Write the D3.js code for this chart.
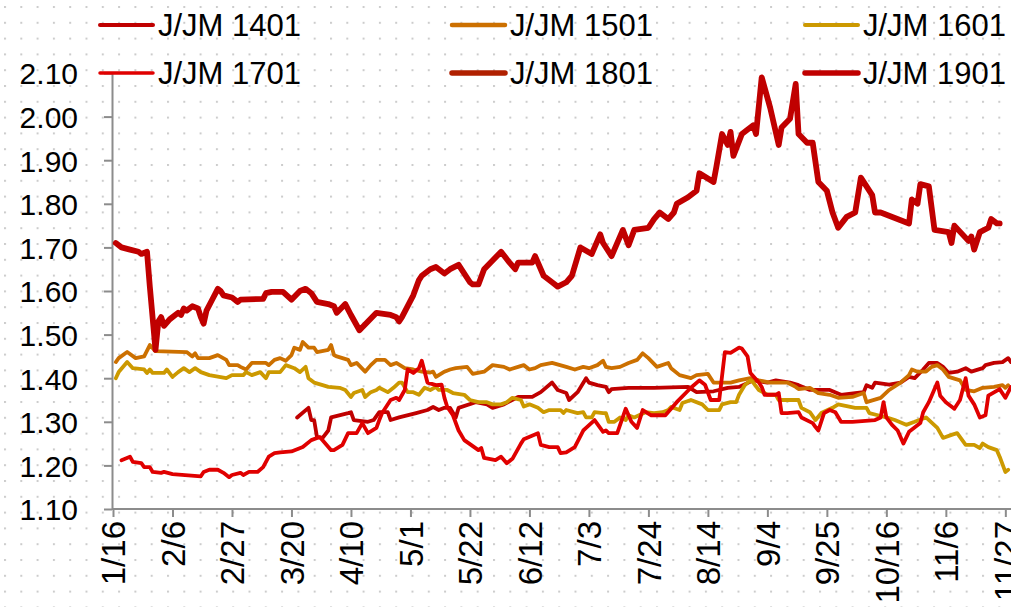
<!DOCTYPE html>
<html>
<head>
<meta charset="utf-8">
<script src="https://cdn.jsdelivr.net/npm/d3@7"></script>
<style>
  html, body { margin: 0; padding: 0; background: #fff; }
  svg { display: block; font-family: "Liberation Sans", Arial, sans-serif; }
</style>
</head>
<body>
<svg id="chart" width="1011" height="607"></svg>
<script>
// tick labels on the x axis (every 3 weeks) and y axis values
var xLabels = ["1/16","2/6","2/27","3/20","4/10","5/1","5/22","6/12","7/3","7/24","8/14","9/4","9/25","10/16","11/6","11/27"];
var yTicks = [1.10,1.20,1.30,1.40,1.50,1.60,1.70,1.80,1.90,2.00,2.10];

var seriesNames = ["J/JM 1401","J/JM 1501","J/JM 1601","J/JM 1701","J/JM 1801","J/JM 1901"];

// [date, ratio]
var s1401 = [["3/22",1.31],["3/26",1.332],["3/27",1.304],["3/28",1.304],["3/29",1.265],["3/31",1.263],["4/2",1.28],["4/3",1.31],
  ["4/9",1.32],["4/10",1.322],["4/11",1.304],["4/16",1.30],["4/18",1.304],["4/20",1.322],["4/23",1.322],["4/24",1.304],["4/27",1.31],
  ["5/3",1.32],["5/7",1.327],["5/9",1.334],["5/11",1.327],["5/13",1.332],["5/15",1.332],["5/17",1.31],["5/18",1.332],["5/24",1.345],
  ["5/28",1.34],["5/30",1.332],["6/3",1.34],["6/8",1.357],["6/13",1.357],["6/16",1.368],["6/20",1.39],["6/22",1.373],["6/25",1.366],
  ["6/26",1.35],["6/29",1.368],["7/2",1.40],["7/3",1.39],["7/6",1.384],["7/9",1.38],["7/10",1.368],["7/11",1.375],["7/17",1.378],
  ["7/20",1.378],["7/26",1.378],["8/7",1.38],["8/10",1.368],["8/16",1.37],["8/21",1.378],["8/25",1.38],["8/30",1.395],["9/4",1.39],
  ["9/7",1.395],["9/12",1.39],["9/15",1.384],["9/19",1.373],["9/26",1.373],["9/30",1.362],["10/5",1.366],["10/8",1.368],["10/9",1.384],
  ["10/11",1.378],["10/12",1.39],["10/17",1.385],["10/21",1.39],["10/24",1.403],["10/26",1.40],["10/29",1.42],["10/31",1.435],
  ["11/3",1.435],["11/5",1.426],["11/7",1.412],["11/10",1.415],["11/13",1.423],["11/15",1.415],["11/19",1.423],["11/20",1.43],
  ["11/23",1.435],["11/26",1.437],["11/28",1.446],["11/29",1.437]];

var s1501 = [["1/17",1.437],["1/18",1.446],["1/21",1.46],["1/24",1.446],["1/27",1.45],["1/29",1.476],["1/31",1.462],["2/11",1.46],
  ["2/13",1.45],["2/14",1.457],["2/15",1.446],["2/19",1.446],["2/22",1.453],["2/25",1.442],["2/26",1.43],["3/1",1.43],["3/2",1.426],
  ["3/4",1.42],["3/6",1.435],["3/11",1.435],["3/12",1.43],["3/14",1.442],["3/16",1.446],["3/18",1.44],["3/20",1.453],["3/21",1.47],
  ["3/23",1.465],["3/24",1.483],["3/26",1.47],["3/28",1.47],["3/29",1.46],["4/2",1.465],["4/3",1.476],["4/4",1.453],["4/5",1.45],
  ["4/9",1.442],["4/10",1.43],["4/12",1.435],["4/15",1.415],["4/17",1.43],["4/19",1.442],["4/22",1.442],["4/24",1.43],["4/26",1.435],
  ["4/29",1.423],["5/2",1.42],["5/5",1.415],["5/8",1.413],["5/9",1.415],["5/10",1.403],["5/13",1.415],["5/15",1.42],["5/17",1.423],
  ["5/21",1.426],["5/23",1.41],["5/27",1.415],["5/30",1.43],["6/3",1.426],["6/5",1.42],["6/8",1.426],["6/10",1.43],["6/12",1.42],
  ["6/14",1.423],["6/16",1.43],["6/20",1.435],["6/25",1.426],["6/28",1.42],["7/1",1.426],["7/3",1.423],["7/6",1.43],["7/8",1.44],
  ["7/9",1.426],["7/11",1.423],["7/14",1.426],["7/17",1.435],["7/20",1.442],["7/22",1.457],["7/24",1.446],["7/27",1.426],["7/31",1.435],
  ["8/1",1.423],["8/4",1.407],["8/8",1.40],["8/10",1.407],["8/14",1.41],["8/16",1.39],["8/22",1.39],["8/25",1.395],["8/29",1.40],
  ["9/1",1.395],["9/5",1.39],["9/11",1.39],["9/14",1.38],["9/15",1.375],["9/19",1.378],["9/22",1.366],["9/26",1.362],["9/29",1.355],
  ["10/4",1.357],["10/8",1.366],["10/9",1.345],["10/14",1.355],["10/17",1.373],["10/21",1.39],["10/24",1.407],["10/25",1.42],
  ["10/27",1.415],["10/30",1.415],["11/1",1.426],["11/3",1.43],["11/5",1.42],["11/7",1.403],["11/11",1.395],["11/13",1.373],
  ["11/16",1.37],["11/19",1.378],["11/23",1.38],["11/26",1.384],["11/27",1.378],["11/28",1.384]];

var s1601 = [["1/17",1.40],["1/18",1.414],["1/21",1.437],["1/23",1.423],["1/27",1.42],["1/28",1.412],["1/29",1.42],["1/30",1.412],
  ["2/3",1.412],["2/4",1.42],["2/6",1.403],["2/8",1.414],["2/10",1.423],["2/12",1.414],["2/14",1.423],["2/16",1.414],["2/19",1.407],
  ["2/25",1.40],["2/27",1.407],["3/3",1.407],["3/4",1.414],["3/6",1.407],["3/9",1.414],["3/11",1.40],["3/12",1.414],["3/16",1.414],
  ["3/18",1.43],["3/21",1.423],["3/23",1.414],["3/25",1.426],["3/26",1.40],["3/28",1.39],["3/31",1.384],["4/2",1.38],["4/6",1.378],
  ["4/8",1.373],["4/10",1.357],["4/11",1.366],["4/14",1.373],["4/15",1.357],["4/17",1.368],["4/19",1.373],["4/20",1.378],["4/23",1.368],
  ["4/25",1.378],["4/27",1.39],["4/28",1.39],["4/30",1.368],["5/2",1.368],["5/4",1.362],["5/6",1.378],["5/8",1.373],["5/10",1.38],
  ["5/11",1.373],["5/14",1.373],["5/16",1.366],["5/20",1.362],["5/22",1.35],["5/25",1.345],["5/28",1.345],["5/30",1.34],["6/2",1.34],
  ["6/4",1.345],["6/6",1.355],["6/9",1.35],["6/10",1.335],["6/12",1.34],["6/15",1.332],["6/17",1.322],["6/19",1.327],["6/23",1.327],
  ["6/24",1.32],["6/25",1.327],["6/29",1.32],["7/1",1.322],["7/2",1.31],["7/4",1.31],["7/5",1.322],["7/8",1.32],["7/9",1.32],
  ["7/10",1.30],["7/12",1.30],["7/14",1.31],["7/16",1.304],["7/17",1.315],["7/19",1.31],["7/23",1.322],["7/26",1.32],["7/29",1.322],
  ["7/31",1.327],["8/1",1.334],["8/4",1.327],["8/5",1.343],["8/8",1.35],["8/12",1.34],["8/14",1.327],["8/18",1.327],["8/19",1.34],
  ["8/22",1.345],["8/24",1.345],["8/25",1.362],["8/27",1.384],["8/29",1.395],["8/30",1.39],["9/1",1.373],["9/4",1.362],["9/7",1.362],
  ["9/8",1.35],["9/13",1.35],["9/15",1.35],["9/16",1.332],["9/19",1.322],["9/21",1.304],["9/23",1.32],["9/27",1.332],["9/29",1.34],
  ["10/5",1.332],["10/9",1.332],["10/10",1.32],["10/13",1.315],["10/16",1.31],["10/19",1.304],["10/23",1.293],["10/26",1.30],
  ["10/30",1.31],["11/3",1.286],["11/5",1.263],["11/8",1.27],["11/10",1.274],["11/13",1.247],["11/16",1.247],["11/18",1.24],
  ["11/19",1.25],["11/21",1.242],["11/24",1.235],["11/25",1.22],["11/27",1.185],["11/28",1.19]];

var s1701 = [["1/19",1.212],["1/22",1.22],["1/23",1.208],["1/26",1.205],["1/27",1.196],["1/29",1.196],["1/30",1.185],["2/2",1.183],
  ["2/3",1.185],["2/6",1.18],["2/16",1.175],["2/17",1.185],["2/19",1.19],["2/22",1.19],["2/24",1.183],["2/26",1.173],["2/27",1.178],
  ["3/2",1.183],["3/3",1.178],["3/5",1.185],["3/8",1.185],["3/10",1.196],["3/12",1.22],["3/14",1.228],["3/16",1.23],["3/20",1.232],
  ["3/24",1.242],["3/27",1.258],["3/30",1.265],["4/3",1.235],["4/4",1.235],["4/7",1.247],["4/9",1.274],["4/12",1.274],["4/14",1.297],
  ["4/16",1.274],["4/19",1.286],["4/20",1.304],["4/21",1.32],["4/24",1.35],["4/26",1.355],["4/27",1.35],["4/29",1.373],["4/30",1.42],
  ["5/2",1.412],["5/4",1.423],["5/5",1.44],["5/7",1.39],["5/10",1.384],["5/12",1.385],["5/13",1.355],["5/14",1.334],["5/16",1.315],
  ["5/18",1.28],["5/20",1.258],["5/25",1.235],["5/26",1.24],["5/27",1.217],["5/31",1.212],["6/2",1.22],["6/4",1.205],["6/6",1.215],
  ["6/9",1.25],["6/10",1.26],["6/15",1.274],["6/16",1.247],["6/19",1.242],["6/22",1.242],["6/23",1.228],["6/25",1.23],["6/28",1.242],
  ["7/1",1.28],["7/2",1.286],["7/5",1.304],["7/8",1.277],["7/9",1.28],["7/10",1.274],["7/13",1.274],["7/16",1.33],["7/18",1.30],
  ["7/20",1.286],["7/22",1.327],["7/25",1.315],["7/30",1.315],["8/3",1.345],["8/8",1.378],["8/11",1.395],["8/13",1.385],["8/15",1.35],
  ["8/18",1.35],["8/20",1.46],["8/22",1.458],["8/25",1.47],["8/26",1.468],["8/28",1.45],["8/29",1.412],["9/1",1.39],["9/2",1.38],
  ["9/3",1.362],["9/7",1.362],["9/8",1.366],["9/9",1.32],["9/11",1.32],["9/15",1.322],["9/16",1.31],["9/20",1.297],["9/21",1.288],
  ["9/22",1.28],["9/24",1.32],["9/26",1.327],["9/28",1.322],["9/30",1.30],["10/4",1.30],["10/12",1.304],["10/14",1.31],["10/15",1.345],
  ["10/16",1.31],["10/18",1.293],["10/20",1.28],["10/22",1.25],["10/24",1.277],["10/28",1.297],["10/29",1.322],["10/31",1.345],
  ["11/3",1.39],["11/4",1.36],["11/6",1.345],["11/9",1.33],["11/11",1.35],["11/13",1.40],["11/14",1.36],["11/16",1.34],["11/18",1.31],
  ["11/20",1.315],["11/21",1.36],["11/25",1.375],["11/27",1.355],["11/29",1.38]];

var s1801 = [];

var s1901 = [["1/17",1.71],["1/19",1.70],["1/22",1.695],["1/25",1.69],["1/26",1.685],["1/28",1.69],["1/29",1.61],["1/31",1.465],
  ["2/1",1.53],["2/2",1.54],["2/3",1.52],["2/5",1.535],["2/8",1.55],["2/9",1.545],["2/10",1.56],["2/11",1.555],["2/13",1.565],
  ["2/15",1.56],["2/16",1.54],["2/17",1.525],["2/18",1.555],["2/20",1.58],["2/22",1.605],["2/23",1.60],["2/24",1.59],["2/27",1.585],
  ["3/1",1.575],["3/2",1.58],["3/10",1.582],["3/11",1.595],["3/13",1.598],["3/17",1.598],["3/20",1.58],["3/23",1.60],["3/25",1.605],
  ["3/27",1.595],["3/29",1.575],["4/2",1.57],["4/4",1.565],["4/5",1.55],["4/8",1.57],["4/10",1.545],["4/13",1.51],["4/16",1.53],
  ["4/19",1.55],["4/24",1.545],["4/26",1.54],["4/27",1.53],["4/28",1.54],["5/2",1.59],["5/4",1.625],["5/5",1.635],["5/8",1.65],
  ["5/10",1.655],["5/13",1.64],["5/15",1.65],["5/18",1.66],["5/22",1.62],["5/23",1.615],["5/25",1.615],["5/27",1.65],["5/30",1.67],
  ["6/2",1.69],["6/5",1.665],["6/7",1.65],["6/8",1.665],["6/13",1.665],["6/14",1.68],["6/17",1.635],["6/20",1.62],["6/22",1.61],
  ["6/25",1.62],["6/27",1.635],["6/30",1.70],["7/4",1.685],["7/7",1.73],["7/8",1.71],["7/11",1.68],["7/15",1.74],["7/17",1.705],
  ["7/19",1.74],["7/24",1.745],["7/26",1.765],["7/28",1.78],["7/31",1.765],["8/2",1.78],["8/3",1.80],["8/7",1.815],["8/10",1.83],
  ["8/11",1.87],["8/16",1.85],["8/17",1.885],["8/19",1.96],["8/21",1.935],["8/22",1.965],["8/23",1.91],["8/26",1.96],["8/30",1.98],
  ["8/31",1.96],["9/2",2.09],["9/5",2.02],["9/8",1.935],["9/9",1.975],["9/12",1.995],["9/14",2.075],["9/15",1.96],["9/18",1.94],
  ["9/20",1.94],["9/22",1.85],["9/25",1.83],["9/27",1.78],["9/29",1.745],["10/2",1.77],["10/5",1.78],["10/7",1.86],["10/11",1.82],
  ["10/12",1.78],["10/14",1.78],["10/24",1.755],["10/25",1.81],["10/27",1.80],["10/28",1.845],["10/31",1.84],["11/1",1.79],
  ["11/2",1.74],["11/7",1.735],["11/8",1.71],["11/9",1.75],["11/14",1.715],["11/15",1.725],["11/16",1.695],["11/18",1.735],
  ["11/21",1.745],["11/22",1.765],["11/24",1.755],["11/25",1.755]];

var allSeries = [s1401, s1501, s1601, s1701, s1801, s1901];

// look of each series (same order as seriesNames)
var colors = ["#c00000", "#cc7000", "#cc9900", "#e00000", "#b02000", "#c00000"];
var lineW = [3.8, 3.8, 3.8, 3.8, 5, 5.8];
var legendW = [4, 4.5, 4, 3.5, 5.5, 5.5];

var svg = d3.select("#chart");
var W = 1011, H = 607;

// dotted background
var defs = svg.append("defs");
var pat = defs.append("pattern")
    .attr("id", "dots")
    .attr("patternUnits", "userSpaceOnUse")
    .attr("width", 16.3).attr("height", 15.8)
    .attr("x", 4).attr("y", 6);
pat.append("rect").attr("width", 2).attr("height", 2).attr("fill", "#cccccc");
svg.append("rect").attr("width", W).attr("height", H).attr("fill", "#fff");
svg.append("rect").attr("width", W).attr("height", H).attr("fill", "url(#dots)");

var parse = d3.utcParse("%m/%d");

var x = d3.scaleUtc()
    .domain([parse("1/16"), parse("11/29")])
    .range([113, 1011]);
var y = d3.scaleLinear()
    .domain([1.10, 2.10])
    .range([509, 73]);

var axisColor = "#8c8c8c";

// y axis
var yAxis = svg.append("g")
    .attr("transform", "translate(112,0)")
    .call(d3.axisLeft(y).tickValues(yTicks).tickFormat(d3.format(".2f")).tickSize(8).tickSizeOuter(0));
yAxis.select(".domain").attr("stroke", axisColor).attr("stroke-width", 2);
yAxis.selectAll(".tick line").attr("stroke", axisColor).attr("stroke-width", 2);
yAxis.selectAll(".tick text")
    .attr("x", -34)
    .attr("dy", "0.36em")
    .attr("fill", "#000")
    .style("font-size", "30px")
    .style("font-family", "'Liberation Sans', Arial, sans-serif");

// x axis
var tickDates = xLabels.map(function(s) { return parse(s); });
var xAxis = svg.append("g")
    .attr("transform", "translate(0,509)")
    .call(d3.axisBottom(x).tickValues(tickDates).tickFormat(function(d, i) { return xLabels[i]; })
      .tickSize(8).tickSizeOuter(0));
xAxis.select(".domain").attr("stroke", axisColor).attr("stroke-width", 2).attr("d", "M112,0H1011");
xAxis.selectAll(".tick line").attr("stroke", axisColor).attr("stroke-width", 2);
xAxis.selectAll(".tick text")
    .attr("transform", "rotate(-90)")
    .attr("text-anchor", "end")
    .attr("x", -12)
    .attr("y", 0)
    .attr("dy", "0.36em")
    .attr("fill", "#000")
    .style("font-size", "33px")
    .style("font-family", "'Liberation Sans', Arial, sans-serif");

// lines
var line = d3.line()
    .x(function(d) { return x(parse(d[0])); })
    .y(function(d) { return y(d[1]); });

svg.append("g").selectAll("path")
    .data(allSeries)
    .join("path")
    .attr("d", function(d) { return d.length ? line(d) : null; })
    .attr("fill", "none")
    .attr("stroke", function(d, i) { return colors[i]; })
    .attr("stroke-width", function(d, i) { return lineW[i]; })
    .attr("stroke-linejoin", "round")
    .attr("stroke-linecap", "round");

// legend, 3 columns x 2 rows
var legCols = [100, 452, 805], legRows = [25, 73];
var leg = svg.append("g").selectAll("g")
    .data(seriesNames)
    .join("g")
    .attr("transform", function(d, i) { return "translate(" + legCols[i % 3] + "," + legRows[Math.floor(i / 3)] + ")"; });
leg.append("line")
    .attr("x1", 0).attr("x2", 53)
    .attr("stroke", function(d, i) { return colors[i]; })
    .attr("stroke-width", function(d, i) { return legendW[i]; })
    .attr("stroke-linecap", "round");
leg.append("text")
    .attr("x", 58)
    .attr("dy", "0.36em")
    .style("font-size", "31px")
    .text(function(d) { return d; });
</script>
</body>
</html>
